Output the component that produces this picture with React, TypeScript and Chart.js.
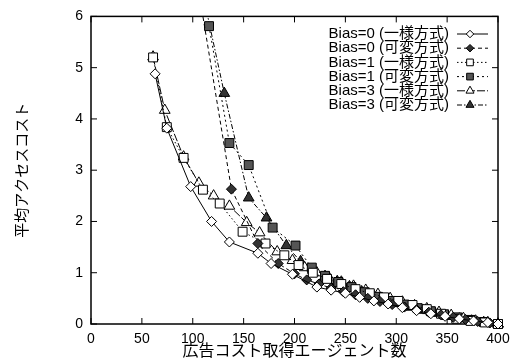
import React, { useEffect, useRef } from 'react';
import { Chart, registerables } from 'chart.js';

Chart.register(...registerables);

// ---- data ----
const xTickValues = [0, 50, 100, 150, 200, 250, 300, 350, 400];
const yTickValues = [0, 1, 2, 3, 4, 5, 6];

const seriesLabels = [
  'Bias=0 (一様方式)',
  'Bias=0 (可変方式)',
  'Bias=1 (一様方式)',
  'Bias=1 (可変方式)',
  'Bias=3 (一様方式)',
  'Bias=3 (可変方式)',
];

const bias0UniformX = [63, 74.5, 98, 118.5, 136, 164, 177, 198, 222, 236, 250, 264, 278, 292, 306, 320, 334, 348, 362, 376, 390, 400];
const bias0UniformY = [4.88, 3.82, 2.68, 2.0, 1.6, 1.38, 1.18, 0.97, 0.72, 0.66, 0.6, 0.52, 0.45, 0.39, 0.32, 0.26, 0.2, 0.15, 0.1, 0.06, 0.03, 0.0];

const bias0VariableX = [100, 138, 164, 184, 200, 212, 224, 236, 248, 260, 272, 284, 296, 308, 320, 332, 344, 356, 368, 380, 392, 400];
const bias0VariableY = [7.2, 2.63, 1.57, 1.18, 0.98, 0.86, 0.78, 0.7, 0.63, 0.57, 0.5, 0.44, 0.38, 0.33, 0.28, 0.23, 0.18, 0.13, 0.09, 0.05, 0.02, 0.0];

const bias1UniformX = [61, 74.5, 91, 110, 126.5, 149, 171.5, 190, 204, 218, 232, 246, 260, 274, 288, 302, 316, 330, 344, 359, 373, 387, 400];
const bias1UniformY = [5.2, 3.84, 3.24, 2.62, 2.35, 1.8, 1.57, 1.34, 1.15, 1.0, 0.88, 0.78, 0.68, 0.6, 0.52, 0.45, 0.37, 0.29, 0.2, 0.1, 0.06, 0.03, 0.0];

const bias1VariableX = [116, 136, 155, 178.5, 201, 217, 230, 243, 256, 269, 282, 295, 308, 321, 334, 347, 360, 373, 386, 400];
const bias1VariableY = [5.81, 3.53, 3.1, 1.88, 1.53, 1.1, 0.94, 0.82, 0.72, 0.62, 0.53, 0.45, 0.38, 0.31, 0.25, 0.19, 0.13, 0.08, 0.04, 0.0];

const bias3UniformX = [61, 72.5, 91, 106, 120.5, 136, 153, 165.7, 183, 198, 210, 222, 234, 246, 258, 270, 282, 294, 306, 318, 330, 342, 354, 366, 378, 390, 400];
const bias3UniformY = [5.21, 4.17, 3.26, 2.75, 2.5, 2.3, 1.98, 1.78, 1.41, 1.24, 1.1, 1.0, 0.9, 0.82, 0.74, 0.66, 0.58, 0.5, 0.43, 0.36, 0.3, 0.23, 0.17, 0.11, 0.06, 0.03, 0.0];

const bias3VariableX = [105, 131, 155, 172.5, 192, 206, 218, 230, 242, 254, 266, 278, 290, 302, 314, 326, 338, 350, 362, 374, 386, 400];
const bias3VariableY = [6.9, 4.5, 2.46, 2.07, 1.53, 1.22, 1.05, 0.93, 0.83, 0.73, 0.63, 0.55, 0.47, 0.4, 0.33, 0.27, 0.21, 0.15, 0.1, 0.06, 0.03, 0.0];

const seriesX = [bias0UniformX, bias0VariableX, bias1UniformX, bias1VariableX, bias3UniformX, bias3VariableX];
const seriesY = [bias0UniformY, bias0VariableY, bias1UniformY, bias1VariableY, bias3UniformY, bias3VariableY];

// ---- styles ----
const markerStyles = ['rectRot', 'rectRot', 'rect', 'rect', 'triangle', 'triangle'];
const markerRadius = [5, 5, 6.3, 6.3, 6.2, 6.2];
const markerFill = ['#ffffff', '#333333', '#ffffff', '#555555', '#ffffff', '#333333'];
const lineDashes: number[][] = [[], [4, 3], [1.5, 2.5], [2, 3], [8, 2], [5, 2, 1.5, 2]];

const tickFont = '"Liberation Sans", Arial, sans-serif';
const cjkFont = '"Noto Sans CJK JP", "Liberation Sans", sans-serif';
const legendFont = '"Liberation Sans", "Noto Sans CJK JP", sans-serif';

function drawMarker(ctx: CanvasRenderingContext2D, style: string, x: number, y: number, r: number, fill: string) {
  ctx.beginPath();
  if (style === 'rectRot') {
    ctx.moveTo(x - r, y);
    ctx.lineTo(x, y - r);
    ctx.lineTo(x + r, y);
    ctx.lineTo(x, y + r);
  } else if (style === 'rect') {
    const s = r * Math.SQRT1_2;
    ctx.rect(x - s, y - s, 2 * s, 2 * s);
  } else {
    ctx.moveTo(x, y - r);
    ctx.lineTo(x + 0.866 * r, y + 0.5 * r);
    ctx.lineTo(x - 0.866 * r, y + 0.5 * r);
  }
  ctx.closePath();
  ctx.fillStyle = fill;
  ctx.fill();
  ctx.setLineDash([]);
  ctx.lineWidth = 1;
  ctx.strokeStyle = '#000';
  ctx.stroke();
}

const framePlugin = {
  id: 'gnuFrame',
  beforeDatasetsDraw(chart: any) {
    const { ctx, chartArea: a, scales } = chart;
    ctx.save();
    ctx.strokeStyle = '#000';
    ctx.lineWidth = 1.5;
    ctx.setLineDash([]);
    ctx.strokeRect(a.left, a.top, a.right - a.left, a.bottom - a.top);
    ctx.lineWidth = 1;
    const tl = 6;
    ctx.beginPath();
    scales.x.ticks.forEach((t: any) => {
      const px = scales.x.getPixelForValue(t.value);
      ctx.moveTo(px, a.bottom);
      ctx.lineTo(px, a.bottom - tl);
      ctx.moveTo(px, a.top);
      ctx.lineTo(px, a.top + tl);
    });
    scales.y.ticks.forEach((t: any) => {
      const py = scales.y.getPixelForValue(t.value);
      ctx.moveTo(a.left, py);
      ctx.lineTo(a.left + tl, py);
      ctx.moveTo(a.right, py);
      ctx.lineTo(a.right - tl, py);
    });
    ctx.stroke();
    ctx.restore();
  },
  afterDatasetsDraw(chart: any) {
    const { ctx } = chart;
    ctx.save();
    chart.data.datasets.forEach((ds: any, i: number) => {
      const y = 34 + i * 14.2;
      ctx.font = '15px ' + legendFont;
      ctx.textAlign = 'right';
      ctx.textBaseline = 'middle';
      ctx.fillStyle = '#000';
      ctx.fillText(ds.label, 449, y);
      ctx.beginPath();
      ctx.setLineDash(lineDashes[i]);
      ctx.lineWidth = 1;
      ctx.strokeStyle = '#000';
      ctx.moveTo(457, y);
      ctx.lineTo(488, y);
      ctx.stroke();
      drawMarker(ctx, markerStyles[i], 470, y, markerRadius[i] * 0.75, markerFill[i]);
    });
    ctx.restore();
  },
};

export default function App() {
  const canvasRef = useRef<HTMLCanvasElement | null>(null);

  useEffect(() => {
    document.body.style.margin = '0';
    const canvas = canvasRef.current;
    if (!canvas) return;
    const datasets = seriesLabels.map((label, i) => ({
      label,
      data: seriesX[i].map((x, j) => ({ x, y: seriesY[i][j] })),
      showLine: true,
      borderColor: '#000',
      borderWidth: 1,
      borderDash: lineDashes[i],
      pointStyle: markerStyles[i] as any,
      pointRadius: markerRadius[i],
      pointBackgroundColor: markerFill[i],
      pointBorderColor: '#000',
      pointBorderWidth: 1,
      fill: false,
      tension: 0,
      clip: { left: 12, top: 0, right: 12, bottom: 12 } as any,
    }));

    const chart = new Chart(canvas, {
      type: 'scatter',
      data: { datasets },
      options: {
        animation: false,
        responsive: true,
        maintainAspectRatio: false,
        layout: { padding: { left: 0, right: 19, top: 14, bottom: 0 } },
        plugins: { legend: { display: false }, tooltip: { enabled: false } },
        scales: {
          x: {
            type: 'linear',
            min: 0,
            max: 400,
            afterBuildTicks: (s: any) => {
              s.ticks = xTickValues.map((v) => ({ value: v }));
            },
            ticks: { font: { family: tickFont, size: 14 }, color: '#000', padding: 7, maxRotation: 0, autoSkip: false },
            grid: { display: false, drawTicks: false },
            border: { display: false },
            title: {
              display: true,
              text: '広告コスト取得エージェント数',
              font: { family: cjkFont, size: 16 },
              color: '#000',
              padding: { top: 0, bottom: 0 },
            },
            afterFit: (s: any) => {
              s.height = 36;
            },
          },
          y: {
            type: 'linear',
            min: 0,
            max: 6,
            afterBuildTicks: (s: any) => {
              s.ticks = yTickValues.map((v) => ({ value: v }));
            },
            ticks: { font: { family: tickFont, size: 14 }, color: '#000', padding: 8 },
            grid: { display: false, drawTicks: false },
            border: { display: false },
            title: {
              display: true,
              text: '平均アクセスコスト',
              font: { family: cjkFont, size: 15 },
              color: '#000',
              padding: { top: 12, bottom: 0 },
            },
            afterFit: (s: any) => {
              s.width = 91;
            },
          },
        },
      },
      plugins: [framePlugin],
    });
    return () => chart.destroy();
  }, []);

  return (
    <div style={{ position: 'fixed', left: 0, top: 0, width: 517, height: 360, background: '#fff' }}>
      <canvas ref={canvasRef} />
    </div>
  );
}
